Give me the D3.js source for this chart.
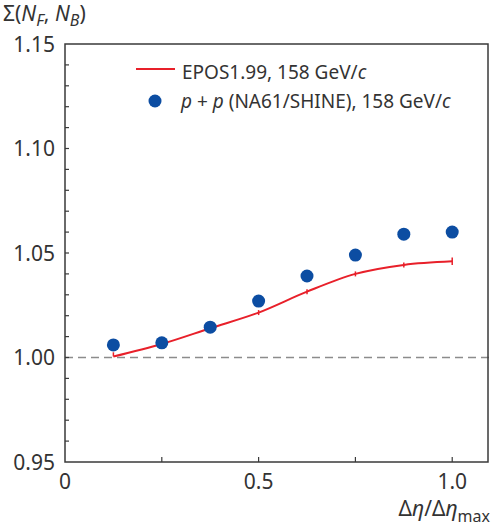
<!DOCTYPE html>
<html>
<head>
<meta charset="utf-8">
<script src="https://cdn.jsdelivr.net/npm/d3@7"></script>
<style>
  body { margin: 0; background: #fff; }
  text { font-family: "Noto Sans", "Open Sans", sans-serif; fill: #333; }
</style>
</head>
<body>
<div id="chart"></div>
<script>
// data
const xs = [0.125, 0.25, 0.375, 0.5, 0.625, 0.75, 0.875, 1.0];
const na61 = [1.006, 1.007, 1.0145, 1.027, 1.039, 1.049, 1.059, 1.060];
const epos = [1.0005, 1.0065, 1.014, 1.0215, 1.0315, 1.040, 1.0443, 1.046];
const eposErrUp = [0.002, 0.0012, 0.0012, 0.0012, 0.0012, 0.0012, 0.0012, 0.0018];
const eposErrDown = [0, 0.0012, 0.0012, 0.0012, 0.0012, 0.0012, 0.0012, 0.0018];
const yTicks = [0.95, 1.00, 1.05, 1.10, 1.15];
const xTicks = [0, 0.5, 1.0];

const width = 491,
      height = 529,
      margin = {top: 44, right: 2, bottom: 67, left: 65};

const x = d3.scaleLinear().domain([0, 1.095]).range([margin.left, width - margin.right]);
const y = d3.scaleLinear().domain([0.95, 1.15]).range([height - margin.bottom, margin.top]);

const svg = d3.select("#chart")
  .append("svg")
  .attr("width", width)
  .attr("height", height);

// dashed reference line at 1
svg.append("line")
  .attr("x1", x(0)).attr("x2", x(1.095))
  .attr("y1", y(1)).attr("y2", y(1))
  .attr("stroke", "#8c8c8c")
  .attr("stroke-width", 1.5)
  .attr("stroke-dasharray", "8,5");

// minor ticks inward
const axisCol = "#3a3a3a";
svg.append("g")
  .selectAll("line")
  .data(d3.range(0.96, 1.15, 0.01))
  .join("line")
  .attr("x1", x(0)).attr("x2", x(0) + 4)
  .attr("y1", d => y(d)).attr("y2", d => y(d))
  .attr("stroke", axisCol).attr("stroke-width", 1.2);

svg.append("g")
  .selectAll("line")
  .data([0.25, 0.5, 0.75, 1.0])
  .join("line")
  .attr("x1", d => x(d)).attr("x2", d => x(d))
  .attr("y1", y(0.95)).attr("y2", y(0.95) - 5)
  .attr("stroke", axisCol).attr("stroke-width", 1.2);

// frame
svg.append("rect")
  .attr("x", x(0)).attr("y", y(1.15))
  .attr("width", x(1.095) - x(0) - 1)
  .attr("height", y(0.95) - y(1.15))
  .attr("fill", "none")
  .attr("stroke", axisCol)
  .attr("stroke-width", 1.5);

// tick labels
svg.append("g")
  .attr("font-size", 21)
  .attr("text-anchor", "end")
  .selectAll("text")
  .data(yTicks)
  .join("text")
  .attr("x", x(0) - 10)
  .attr("y", d => y(d) + 7.5)
  .text(d => d.toFixed(2));

svg.append("g")
  .attr("font-size", 21)
  .attr("text-anchor", "middle")
  .selectAll("text")
  .data(xTicks)
  .join("text")
  .attr("x", d => x(d))
  .attr("y", 489)
  .text(d => d === 0 ? "0" : d.toFixed(1));

// axis titles
const yt = svg.append("text")
  .attr("x", 3).attr("y", 21)
  .attr("font-size", 21);
yt.append("tspan").text("Σ(");
yt.append("tspan").attr("font-style", "italic").text("N");
yt.append("tspan").attr("font-style", "italic").attr("font-size", 16).attr("dy", 5).text("F");
yt.append("tspan").attr("dy", -5).text(", ");
yt.append("tspan").attr("font-style", "italic").text("N");
yt.append("tspan").attr("font-style", "italic").attr("font-size", 16).attr("dy", 5).text("B");
yt.append("tspan").attr("dy", -5).text(")");

const xt = svg.append("text")
  .attr("x", 490).attr("y", 516)
  .attr("text-anchor", "end")
  .attr("font-size", 21);
xt.append("tspan").text("Δ");
xt.append("tspan").attr("font-style", "italic").text("η");
xt.append("tspan").text("/Δ");
xt.append("tspan").attr("font-style", "italic").text("η");
xt.append("tspan").attr("font-size", 16).attr("dy", 6).text("max");

// EPOS curve
const eposData = xs.map((d, i) => ({x: d, y: epos[i], up: eposErrUp[i], down: eposErrDown[i]}));
const red = "#e8202a";

svg.append("path")
  .datum(eposData)
  .attr("fill", "none")
  .attr("stroke", red)
  .attr("stroke-width", 2)
  .attr("d", d3.line().x(d => x(d.x)).y(d => y(d.y)).curve(d3.curveCatmullRom.alpha(0.5)));

svg.append("g")
  .selectAll("line")
  .data(eposData)
  .join("line")
  .attr("x1", d => x(d.x)).attr("x2", d => x(d.x))
  .attr("y1", d => y(d.y - d.down)).attr("y2", d => y(d.y + d.up))
  .attr("stroke", red)
  .attr("stroke-width", 1.5);

// NA61 points
svg.append("g")
  .selectAll("circle")
  .data(xs.map((d, i) => ({x: d, y: na61[i]})))
  .join("circle")
  .attr("cx", d => x(d.x))
  .attr("cy", d => y(d.y))
  .attr("r", 6.5)
  .attr("fill", "#0c4da2");

// legend
svg.append("line")
  .attr("x1", 136).attr("x2", 175)
  .attr("y1", 69).attr("y2", 69)
  .attr("stroke", red).attr("stroke-width", 2);

const l1 = svg.append("text")
  .attr("x", 182).attr("y", 79)
  .attr("font-size", 19);
l1.append("tspan").text("EPOS1.99, 158 GeV/");
l1.append("tspan").attr("font-style", "italic").text("c");

svg.append("circle")
  .attr("cx", 155).attr("cy", 101)
  .attr("r", 6.5)
  .attr("fill", "#0c4da2");

const l2 = svg.append("text")
  .attr("x", 181).attr("y", 108)
  .attr("font-size", 19);
l2.append("tspan").attr("font-style", "italic").text("p");
l2.append("tspan").text(" + ");
l2.append("tspan").attr("font-style", "italic").text("p");
l2.append("tspan").text(" (NA61/SHINE), 158 GeV/");
l2.append("tspan").attr("font-style", "italic").text("c");
</script>
</body>
</html>
